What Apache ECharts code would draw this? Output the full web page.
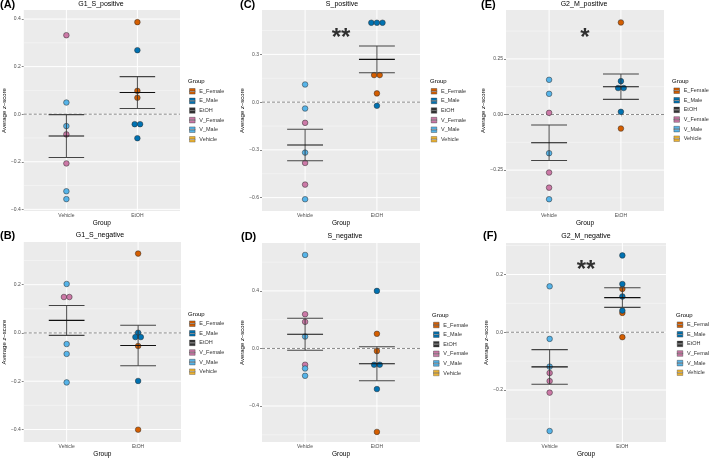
<!DOCTYPE html>
<html><head><meta charset="utf-8">
<script src="https://cdn.jsdelivr.net/npm/echarts@6/dist/echarts.min.js"></script>
<style>html,body{margin:0;padding:0;background:#fff}#c{width:709px;height:459px}</style>
</head><body><div id="c"></div>
<script>
// ---------------- DATA ----------------
const LETTERS = ['(A)','(B)','(C)','(D)','(E)','(F)'];
const TITLES = ['G1_S_positive','G1_S_negative','S_positive','S_negative','G2_M_positive','G2_M_negative'];
const GROUPS = ['Vehicle','EtOH'];
const LEGEND_NAMES = ['E_Female','E_Male','EtOH','V_Female','V_Male','Vehicle'];

const V_FEMALE = [
  [0.332,-0.085,-0.207],
  [0.149,0.149],
  [-0.130,-0.382,-0.518],
  [0.238,0.185,-0.113],
  [0.0075,-0.261,-0.329],
  [-0.141,-0.169,-0.209]
];
const V_MALE = [
  [0.049,-0.050,-0.324,-0.357],
  [0.203,-0.046,-0.087,-0.205],
  [0.111,-0.040,-0.317,-0.610],
  [0.650,0.083,-0.139,-0.190],
  [0.156,0.093,-0.174,-0.381],
  [0.159,-0.023,-0.119,-0.342]
];
const E_FEMALE = [
  [0.387,0.098,0.069],
  [0.329,-0.054,-0.401],
  [0.170,0.170,0.055],
  [0.102,-0.018,-0.580],
  [0.414,-0.063],
  [0.150,0.067,-0.017]
];
const E_MALE = [
  [0.269,-0.042,-0.042,-0.101],
  [0.001,-0.017,-0.017,-0.199],
  [0.499,0.499,0.499,-0.023],
  [0.400,-0.113,-0.113,-0.282],
  [0.150,0.119,0.119,0.012],
  [0.266,0.167,0.124,0.075]
];
const MEAN_VEHICLE = [-0.092,0.052,-0.269,0.099,-0.127,-0.120];
const SE_VEHICLE   = [0.090,0.062,0.099,0.111,0.080,0.060];
const MEAN_ETOH    = [0.091,-0.052,0.269,-0.106,0.125,0.120];
const SE_ETOH      = [0.067,0.084,0.084,0.118,0.057,0.034];

const Y_MIN = [-0.407,-0.452,-0.684,-0.650,-0.434,-0.380];
const Y_MAX = [0.438,0.377,0.579,0.733,0.470,0.309];
const Y_TICKS = [
  [-0.4,-0.2,0,0.2,0.4],
  [-0.4,-0.2,0,0.2],
  [-0.6,-0.3,0,0.3],
  [-0.4,0,0.4],
  [-0.25,0,0.25],
  [-0.2,0,0.2]
];
const Y_TICK_LABELS = [
  ['\u22120.4','\u22120.2','0.0','0.2','0.4'],
  ['\u22120.4','\u22120.2','0.0','0.2'],
  ['\u22120.6','\u22120.3','0.0','0.3'],
  ['\u22120.4','0.0','0.4'],
  ['\u22120.25','0.00','0.25'],
  ['\u22120.2','0.0','0.2']
];
const SIG_TEXT = ['','','**','','*','**'];
const SIG_Y = [null,null,0.438,null,0.369,0.235];

// ---------------- STYLE / LAYOUT ----------------
const COLORS = {E_Female:'#D55E00',E_Male:'#0072B2',EtOH:'#000000',V_Female:'#CC79A7',V_Male:'#56B4E9',Vehicle:'#E69F00'};
const POINT_SIZE = 5.6;
const LAYOUT = [
 {grid:[18,10,162,201],  title:[101,4],   letter:[0,5],     legend:[189.3,88.3], legTitle:[188,81],  yGap:11.5},
 {grid:[19,242,162,200], title:[100,235], letter:[0,236],   legend:[189.3,320.7],legTitle:[188,314], yGap:12.5},
 {grid:[262,10,158,201], title:[342,4],   letter:[240,5],   legend:[431,88.3],   legTitle:[430,81],  yGap:12},
 {grid:[262,243,158,199],title:[345,236], letter:[241,237], legend:[433.3,322],  legTitle:[432,315], yGap:12},
 {grid:[506,10,158,201], title:[584,4],   letter:[481,5],   legend:[673.7,87.7], legTitle:[672,81],  yGap:15.5},
 {grid:[506,243,160,199],title:[586,236], letter:[483,236], legend:[677,321.7],  legTitle:[676,315], yGap:14.5}
];
const FONT = 'Liberation Sans, Arial, sans-serif';
const KEY_ICON = 'path://M0,0H10V10H0Z M0,4.4V5.6H10V4.4Z';

function swarm(p, gi, lists) {
  const pts = [];
  lists.forEach(l => l.vals.forEach(v => pts.push({name:l.name, v})));
  pts.sort((a,b) => b.v - a.v);
  const L = LAYOUT[p];
  const pxPerY = L.grid[3] / (Y_MAX[p] - Y_MIN[p]);
  const step = POINT_SIZE * 2.2 / L.grid[2];
  let i = 0;
  while (i < pts.length) {
    let j = i + 1;
    while (j < pts.length && Math.abs(pts[j].v - pts[j-1].v) * pxPerY < 1.5) j++;
    const n = j - i;
    for (let k = 0; k < n; k++) pts[i+k].x = gi + 1 + (k - (n-1)/2) * step;
    i = j;
  }
  return pts;
}

const grids = [], xAxes = [], yAxes = [], series = [], legends = [], graphics = [];

for (let p = 0; p < 6; p++) {
  const L = LAYOUT[p];
  grids.push({left:L.grid[0], top:L.grid[1], width:L.grid[2], height:L.grid[3], show:true, backgroundColor:'#EBEBEB', borderWidth:0, containLabel:false});
  xAxes.push({
    gridIndex:p, type:'value', min:0.4, max:2.6,
    name:'Group', nameLocation:'middle', nameGap:7,
    nameTextStyle:{fontSize:6.5, color:'#000', fontFamily:FONT},
    axisLine:{show:false}, splitLine:{show:false},
    axisTick:{show:true, customValues:[1,2], length:2, lineStyle:{color:'#333', width:0.6}},
    axisLabel:{customValues:[1,2], margin:2.5, fontSize:5, color:'#4D4D4D', fontFamily:FONT,
      formatter: v => GROUPS[Math.round(v)-1] || ''}
  });
  const ticks = Y_TICKS[p], labs = Y_TICK_LABELS[p];
  yAxes.push({
    gridIndex:p, type:'value', min:Y_MIN[p], max:Y_MAX[p],
    name:'Average {i|z}\u2013score', nameLocation:'middle', nameGap:L.yGap,
    nameTextStyle:{fontSize:6, color:'#000', fontFamily:FONT, rich:{i:{fontStyle:'italic', fontSize:6, fontFamily:FONT}}},
    axisLine:{show:false}, splitLine:{show:false},
    axisTick:{show:true, customValues:ticks, length:2, lineStyle:{color:'#333', width:0.6}},
    axisLabel:{customValues:ticks, margin:3, fontSize:5, color:'#4D4D4D', fontFamily:FONT,
      formatter: v => { const i = ticks.findIndex(t => Math.abs(t - v) < 1e-9); return i >= 0 ? labs[i] : ''; }}
  });

  // grid lines: majors, minors, verticals at categories, dashed zero line
  const stepT = ticks[1] - ticks[0];
  const minors = [];
  for (let m = ticks[0] - stepT/2; m <= Y_MAX[p]; m += stepT) if (m >= Y_MIN[p]) minors.push(m);
  const gl = [];
  minors.forEach(v => gl.push([1, v, 0]));
  ticks.forEach(v => gl.push([1, v, 1]));
  [1,2].forEach(x => gl.push([x, 0, 2]));
  gl.push([1, 0, 3]);
  series.push({
    type:'custom', xAxisIndex:p, yAxisIndex:p, z:1, silent:true, data:gl,
    renderItem(params, api) {
      const cs = params.coordSys;
      const kind = api.value(2);
      if (kind === 2) {
        const px = api.coord([api.value(0), 0])[0];
        return {type:'line', shape:{x1:px, y1:cs.y, x2:px, y2:cs.y+cs.height}, style:{stroke:'#fff', lineWidth:1}};
      }
      const py = api.coord([1, api.value(1)])[1];
      const st = kind === 1 ? {stroke:'#fff', lineWidth:1}
               : kind === 0 ? {stroke:'#fff', lineWidth:0.5, opacity:0.75}
               : {stroke:'#6E6E6E', lineWidth:0.8, lineDash:[3,2]};
      return {type:'line', z2: kind === 3 ? 5 : 1, shape:{x1:cs.x, y1:py, x2:cs.x+cs.width, y2:py}, style:st};
    }
  });

  // points
  const vehPts = swarm(p, 0, [{name:'V_Female', vals:V_FEMALE[p]}, {name:'V_Male', vals:V_MALE[p]}]);
  const etPts  = swarm(p, 1, [{name:'E_Female', vals:E_FEMALE[p]}, {name:'E_Male', vals:E_MALE[p]}]);
  const all = vehPts.concat(etPts);
  ['E_Female','E_Male','V_Female','V_Male'].forEach(nm => {
    series.push({
      type:'scatter', name:nm, xAxisIndex:p, yAxisIndex:p, z:3, silent:true,
      symbolSize:POINT_SIZE,
      itemStyle:{color:COLORS[nm], borderColor:'#2b2b2b', borderWidth:0.5, opacity:1},
      data: all.filter(d => d.name === nm).map(d => [d.x, d.v])
    });
  });

  // mean +/- SE crossbars
  series.push({
    type:'custom', xAxisIndex:p, yAxisIndex:p, z:4, silent:true,
    data:[[1, MEAN_VEHICLE[p], SE_VEHICLE[p]], [2, MEAN_ETOH[p], SE_ETOH[p]]],
    renderItem(params, api) {
      const x = api.value(0), m = api.value(1), se = api.value(2), h = 0.25;
      const a = api.coord([x-h, m+se]), b = api.coord([x+h, m+se]);
      const c = api.coord([x-h, m-se]), d = api.coord([x+h, m-se]);
      const e = api.coord([x-h, m]), f = api.coord([x+h, m]);
      const t = api.coord([x, m+se]), u = api.coord([x, m-se]);
      return {type:'group', children:[
        {type:'line', shape:{x1:t[0], y1:t[1], x2:u[0], y2:u[1]}, style:{stroke:'#333', lineWidth:0.9}},
        {type:'line', shape:{x1:a[0], y1:a[1], x2:b[0], y2:b[1]}, style:{stroke:'#444', lineWidth:1.1}},
        {type:'line', shape:{x1:c[0], y1:c[1], x2:d[0], y2:d[1]}, style:{stroke:'#444', lineWidth:1.1}},
        {type:'line', shape:{x1:e[0], y1:e[1], x2:f[0], y2:f[1]}, style:{stroke:'#111', lineWidth:1.1}}
      ]};
    }
  });

  // significance marks
  if (SIG_TEXT[p]) {
    series.push({
      type:'scatter', xAxisIndex:p, yAxisIndex:p, z:5, silent:true, symbolSize:1,
      itemStyle:{color:'rgba(0,0,0,0)'},
      label:{show:true, position:'inside', formatter:SIG_TEXT[p], fontSize:24, fontWeight:'bold',
             color:'#000', fontFamily:FONT, offset:[0,6]},
      data:[[1.5, SIG_Y[p]]]
    });
  }

  legends.push({
    orient:'vertical', left:L.legend[0], top:L.legend[1], padding:0,
    itemWidth:6, itemHeight:5.6, itemGap:3.6, icon:KEY_ICON, selectedMode:false,
    itemStyle:{borderColor:'#333', borderWidth:0.4},
    textStyle:{fontSize:5.5, color:'#333', fontFamily:FONT, lineHeight:6, padding:[0,0,0,-1]},
    data:LEGEND_NAMES
  });

  graphics.push({type:'text', silent:true, style:{x:L.title[0], y:L.title[1], text:TITLES[p], textAlign:'center', textVerticalAlign:'middle', fontSize:7, fill:'#000', fontFamily:FONT}});
  graphics.push({type:'text', silent:true, style:{x:L.letter[0], y:L.letter[1], text:LETTERS[p], textAlign:'left', textVerticalAlign:'middle', fontSize:11, fontWeight:'bold', fill:'#000', fontFamily:FONT}});
  graphics.push({type:'text', silent:true, style:{x:L.legTitle[0], y:L.legTitle[1], text:'Group', textAlign:'left', textVerticalAlign:'middle', fontSize:6, fill:'#000', fontFamily:FONT}});
}

// legend-only series for crossbar colour keys
series.push({type:'scatter', name:'EtOH', xAxisIndex:0, yAxisIndex:0, data:[], itemStyle:{color:COLORS.EtOH}});
series.push({type:'scatter', name:'Vehicle', xAxisIndex:0, yAxisIndex:0, data:[], itemStyle:{color:COLORS.Vehicle}});

const chart = echarts.init(document.getElementById('c'), null, {renderer:'canvas'});
chart.setOption({
  animation:false, backgroundColor:'#fff',
  grid:grids, xAxis:xAxes, yAxis:yAxes, legend:legends, series:series, graphic:graphics
});
</script></body></html>
